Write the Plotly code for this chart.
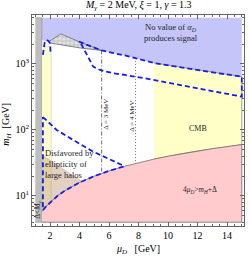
import numpy as np
import plotly.graph_objects as go

# ---------------- data ----------------
Y_MIN, Y_MAX = 4, 5000
GRAY_MU = [1.0, 1.45]
YELLOW_MU = [1.45, 2.08]
YELLOW_TOP = 1850

# lower edge of the "no value produces signal" region
BLUE_MU = [1.45, 1.91, 2.74, 3.96, 5.5, 7.08, 8.3, 9.05, 12.17, 15.0]
BLUE_M = [2300, 2180, 2850, 2180, 1600, 1345, 1150, 1035, 797, 643]

# lower edge of the hatched region (right to left)
HATCH_BOT_MU = [5.5, 4.03, 2.67, 2.0, 1.91]
HATCH_BOT_M = [1600, 1750, 1940, 2080, 2180]

# lower dashed contour of the upper loop
LOW_MU = [4.03, 4.93, 5.39, 6.2, 7.08, 8.3, 10.13, 12.17, 15.0]
LOW_M = [2180, 910, 811, 731, 681, 614, 515, 425, 320]

# small hook near the yellow band
HOOK_MU = [1.52, 1.64, 1.77, 1.89, 2.0, 2.04]
HOOK_M = [1370, 2130, 2310, 2230, 2060, 1450]

# diagonal dashed contour of the lower loop
DIAG_MU = [1.52, 2.45, 3.69, 4.93, 7.01]
DIAG_M = [157, 100, 68, 47, 28.5]

# boundary 4 mu_D = m_H + Delta
PINK_MU = [1.45, 1.52, 1.75, 2, 2.5, 3, 3.5, 4, 5, 6, 7, 8, 9, 10, 11, 12, 13, 14, 15]
PINK_M = [5.8, 6.1, 7, 8, 10, 12, 14, 16, 20, 24, 28, 32, 36, 40, 44, 48, 52, 56, 60]

# ellipticity triangle: top-left corner and where it meets the pink edge
BROWN_MU = [1.45, 4.17]
BROWN_M = [42, 16.5]

CMB_MU = 9.05
D3_MU = 5.5
D4_MU = 7.8

X_TICKS = [2, 4, 6, 8, 10, 12, 14]
Y_TICKS = [10, 100, 1000]
Y_TICKTEXT = ["10<sup>1</sup>", "10<sup>2</sup>", "10<sup>3</sup>"]

# ---------------- helpers ----------------
def interp_log(x, xs, ys):
    return float(10 ** np.interp(x, xs, np.log10(ys)))

def pink_at(x):
    return float(np.interp(x, PINK_MU, PINK_M))

SERIF = "Liberation Serif"
BLUE_LINE = "rgb(20,30,235)"
fig = go.Figure()

def poly(xs, ys, fill, line_color="rgba(0,0,0,0)", lw=0, **kw):
    fig.add_trace(go.Scatter(x=xs, y=ys, mode="lines", fill="toself",
                             fillcolor=fill, line=dict(color=line_color, width=lw),
                             hoverinfo="skip", showlegend=False, **kw))

def line(xs, ys, color, width, dash="solid"):
    fig.add_trace(go.Scatter(x=xs, y=ys, mode="lines",
                             line=dict(color=color, width=width, dash=dash),
                             hoverinfo="skip", showlegend=False))

# blue "no signal" region
poly([BLUE_MU[0]] + BLUE_MU + [BLUE_MU[-1]],
     [Y_MAX] + BLUE_M + [Y_MAX], "rgb(197,197,250)")

# gray band
poly([GRAY_MU[0], GRAY_MU[1], GRAY_MU[1], GRAY_MU[0]],
     [Y_MIN, Y_MIN, Y_MAX, Y_MAX], "rgb(190,190,190)", "rgb(130,130,130)", 0.6)

# yellow vertical band
poly([YELLOW_MU[0], YELLOW_MU[1], YELLOW_MU[1], YELLOW_MU[0]],
     [pink_at(YELLOW_MU[0]), pink_at(YELLOW_MU[1]), YELLOW_TOP, YELLOW_TOP],
     "rgb(255,255,205)", "rgb(200,200,170)", 0.6)

# CMB region
cmb_top_x = [m for m in BLUE_MU if m >= CMB_MU]
cmb_top_y = [BLUE_M[i] for i, m in enumerate(BLUE_MU) if m >= CMB_MU]
cmb_bot_x = [m for m in PINK_MU if m > CMB_MU][::-1]
poly([CMB_MU] + cmb_top_x + cmb_bot_x + [CMB_MU],
     [interp_log(CMB_MU, BLUE_MU, BLUE_M)] + cmb_top_y + [pink_at(m) for m in cmb_bot_x] + [pink_at(CMB_MU)],
     "rgb(255,255,200)", "rgb(120,120,110)", 0.7)

# pink kinematic region
poly(PINK_MU + [PINK_MU[-1], PINK_MU[0]],
     PINK_M + [Y_MIN, Y_MIN], "rgb(255,203,205)", "rgb(90,90,90)", 0.7)

# ellipticity (brown, translucent)
br_bot_x = [m for m in PINK_MU if m < BROWN_MU[1]][::-1]
poly(BROWN_MU + br_bot_x,
     BROWN_M + [pink_at(m) for m in br_bot_x],
     "rgba(190,150,120,0.45)", "rgba(150,120,100,0.5)", 0.5)

# hatched region
hx = [m for m in BLUE_MU if 1.91 <= m <= 5.5] + HATCH_BOT_MU[1:]
hy = [BLUE_M[i] for i, m in enumerate(BLUE_MU) if 1.91 <= m <= 5.5] + HATCH_BOT_M[1:]
fig.add_trace(go.Scatter(x=hx, y=hy, mode="lines", fill="toself",
                         fillcolor="rgb(225,225,225)",
                         fillpattern=dict(shape="+", fgcolor="rgb(120,120,120)",
                                          bgcolor="rgb(226,226,226)", size=4, solidity=0.25),
                         line=dict(color="rgb(60,60,60)", width=0.6),
                         hoverinfo="skip", showlegend=False))

# Delta = 3 MeV (dash-dot) and Delta = 4 MeV (dotted)
line([D3_MU, D3_MU], [interp_log(D3_MU, BLUE_MU, BLUE_M), pink_at(D3_MU)],
     "rgb(70,70,70)", 0.8, "4px,2px,1px,2px")
line([D4_MU, D4_MU], [interp_log(D4_MU, BLUE_MU, BLUE_M), pink_at(D4_MU)],
     "rgb(90,90,90)", 0.9, "1px,2px")

DASH = "5px,3px"
# upper loop: boundary -> right edge -> lower dashed
up_x = [m for m in BLUE_MU if m >= 3.96]
up_y = [BLUE_M[i] for i, m in enumerate(BLUE_MU) if m >= 3.96]
line(up_x + LOW_MU[::-1], up_y + LOW_M[::-1], BLUE_LINE, 1.8, DASH)
# hook
line(HOOK_MU, HOOK_M, BLUE_LINE, 1.8, DASH)
# lower loop: diagonal -> along pink edge -> up
lp_x = [m for m in PINK_MU if DIAG_MU[0] < m < DIAG_MU[-1]][::-1]
line(DIAG_MU + lp_x + [DIAG_MU[0], DIAG_MU[0]],
     DIAG_M + [pink_at(m) for m in lp_x] + [pink_at(DIAG_MU[0]), DIAG_M[0]],
     BLUE_LINE, 1.8, DASH)

# ---------------- annotations ----------------
def note(x, y, text, size=8, angle=0, xanchor="center", align="center", **kw):
    fig.add_annotation(x=x, y=y, xref="x", yref="y", text=text, showarrow=False,
                       textangle=angle, xanchor=xanchor, align=align,
                       font=dict(family=SERIF, size=size, color="rgb(30,30,30)"), **kw)

note(10.2, np.log10(3000), "No value of <i>α<sub>D</sub></i><br>produces signal", 8.5)
note(12.0, np.log10(107), "CMB", 8)
note(12.2, np.log10(12.5), "4<i>μ<sub>D</sub></i>&gt;<i>m<sub>H</sub></i>+Δ", 7.5)
note(1.55, np.log10(30), "Disfavored by<br>ellipticity of<br>large halos", 8.5,
     xanchor="left", align="left")
note(1.22, np.log10(6.3), "Δ&lt;<i>M<sub>γ</sub></i>", 7.5, angle=-90)
note(D3_MU + 0.3, np.log10(170), "Δ = 3 MeV", 7, angle=-90)
note(D4_MU - 0.3, np.log10(160), "Δ = 4 MeV", 7, angle=-90)

fig.add_annotation(x=0.5, y=1, xref="paper", yref="paper", yanchor="bottom", yshift=1,
                   text="<i>M<sub>γ</sub></i> = 2 MeV, <i>ξ</i> = 1, <i>γ</i> = 1.3",
                   showarrow=False, font=dict(family=SERIF, size=10, color="black"))
fig.add_annotation(x=0.5, y=0, xref="paper", yref="paper", yanchor="middle", yshift=-23,
                   text="<i>μ<sub>D</sub></i>   [GeV]", showarrow=False,
                   font=dict(family=SERIF, size=10, color="black"))
fig.add_annotation(x=0, y=0.48, xref="paper", yref="paper", xanchor="center", xshift=-25,
                   text="<i>m<sub>H</sub></i>  [GeV]", textangle=-90, showarrow=False,
                   font=dict(family=SERIF, size=10, color="black"))

axis_common = dict(showline=True, mirror="allticks", linecolor="rgb(100,100,100)",
                   linewidth=1, ticks="inside", tickcolor="rgb(100,100,100)",
                   showgrid=False, zeroline=False, automargin=False,
                   tickfont=dict(family=SERIF, size=10, color="black"))

fig.update_layout(
    width=250, height=260, margin=dict(l=32, r=6, t=15, b=34, autoexpand=False),
    paper_bgcolor="white", plot_bgcolor="white",
    xaxis=dict(range=[0.78, 15.15], tickvals=X_TICKS, ticklen=4,
               minor=dict(dtick=0.5, tick0=0, ticklen=2, ticks="inside",
                          tickcolor="rgb(100,100,100)"),
               **axis_common),
    yaxis=dict(type="log", range=[0.545, 3.742], tickvals=Y_TICKS,
               ticktext=Y_TICKTEXT, ticklen=4,
               minor=dict(ticklen=2, ticks="inside", tickcolor="rgb(100,100,100)",
                          tickvals=[v * k for v in [1, 10, 100, 1000] for k in range(2, 10)]),
               **axis_common),
)

fig.write_html("out.html", config={"displayModeBar": False},
               post_script="document.body.style.margin='0';")
